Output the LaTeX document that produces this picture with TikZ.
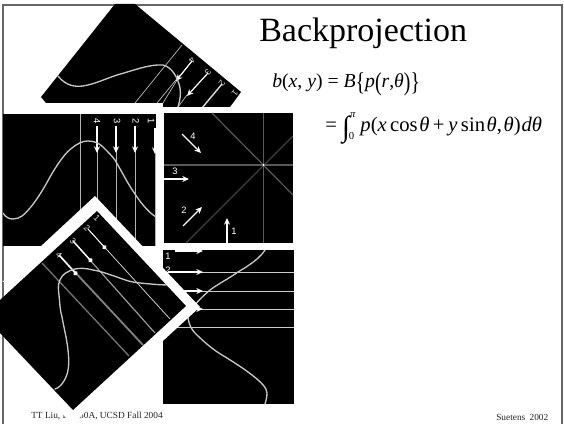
\documentclass[tikz,border=0pt]{standalone}
\usepackage{fontspec}
\setmainfont{Liberation Serif}
\newfontfamily\lsans{Liberation Sans}
\usetikzlibrary{arrows.meta}
\definecolor{framegray}{gray}{0.4}
\definecolor{curvegray}{gray}{0.78}
\newcommand{\mi}[1]{\textit{#1}}
\newcommand{\bigsym}[1]{\raisebox{-0.13em}{\scalebox{1.0}[1.3]{#1}}}
\tikzset{
  x=0.75pt,y=-0.75pt,
  framel/.style={draw=framegray,line width=0.85pt},
  panel/.style={fill=black,draw=none},
  ray/.style={draw=white!70!black,line width=0.55pt},
  curveline/.style={draw=curvegray,line width=1pt,line cap=round},
  arrowline/.style={draw=white,line width=1pt,-{Stealth[length=5pt,width=4.5pt]}},
  digit/.style={text=white,font=\lsans\fontsize{7}{8}\selectfont,inner sep=0pt},
  tinydigit/.style={text=white!85!black,font=\lsans\fontsize{6.5}{7}\selectfont,inner sep=0pt},
  footer/.style={font=\fontsize{7}{8}\selectfont,inner sep=0pt,text=black!85},
  formula/.style={font=\fontsize{14.8}{16}\selectfont,inner sep=0pt,anchor=base west},
  formulawide/.style={font=\fontsize{15.5}{17}\selectfont,inner sep=0pt,anchor=base west},
}
\begin{document}
\begin{tikzpicture}
\useasboundingbox (0,0) rectangle (564,424);
\fill[white] (0,0) rectangle (564,424);
% slide frame
\draw[framel] (3,424) -- (3,5) -- (562,5) -- (562,424);
% texts
\node[font=\fontsize{25.5}{30}\selectfont,inner sep=0pt,anchor=base west] (title) at (259,42) {Backprojection};
\node[formula] (eqa) at (272,88) {\mi{b}(\mi{x}, \mi{y}) = \mi{B}\bigsym{\{}\mi{p}\bigsym{(}\mi{r},\mi{θ}\bigsym{)}\bigsym{\}}};
\node[formulawide] (eqb) at (325,132) {= \raisebox{-0.2em}{\scalebox{1.4}{∫}}\raisebox{0.7em}{\fontsize{8}{8}\selectfont\mi{π}}\kern-0.32em\raisebox{-0.38em}{\fontsize{8}{8}\selectfont 0}\kern4.6pt\mi{p}(\mi{x}\kern2.5pt cos\kern1.2pt\mi{θ}\kern2.5pt+\kern3pt\mi{y}\kern2.5pt sin\kern1.2pt\mi{θ},\kern1.2pt\mi{θ})\kern0.7pt\mi{dθ}};
\node[footer,anchor=base west] (foota) at (31,418) {TT Liu, BE280A, UCSD Fall 2004};
\node[footer,anchor=base west] (footb) at (496,420.5) {Suetens\kern1.5pt\ 2002};
% top rotated panel
\begin{scope}
\clip (115,4) -- (135,4) -- (241,92) -- (230,107) -- (163,107) -- (163,103) -- (46,103) -- (41,97) -- cycle;
\fill[panel] (0,0) rectangle (250,110);
\draw[ray] (182,45) -- (135,103);
\draw[ray] (180,75) -- (157,103);
\draw[ray] (177,80) -- (163,103);
\draw[ray] (187,95) -- (178,107);
\draw[arrowline,line width=0.9pt] (192,61) -- (176,81);
\draw[arrowline,line width=0.9pt] (208,73) -- (187,96);
\draw[draw=white!85!black,line width=1.1pt] (222,84) -- (202,108);
\draw[curveline] (58,76) .. controls (66,86) and (75,87) .. (83,86)
  .. controls (95,84) and (105,79) .. (117,75)
  .. controls (135,70) and (150,64) .. (163,65)
  .. controls (172,67) and (178,78) .. (180,88)
  .. controls (181,95) and (180,100) .. (178,107);
\node[tinydigit,rotate=-128] (t4) at (192,60) {4};
\node[tinydigit,rotate=-128] (t3) at (208,72) {3};
\node[tinydigit,rotate=-128] (t2) at (222,83) {2};
\node[tinydigit,rotate=-128] (t1) at (235,93) {1};
\end{scope}
% left panel
\begin{scope}
\clip (3,114) rectangle (156,246);
\fill[panel] (3,114) rectangle (156,246);
\draw[ray] (80,114) -- (80,246);
\draw[ray] (97,150) -- (97,246);
\draw[ray] (116,150) -- (116,246);
\draw[ray] (135,150) -- (135,246);
\draw[ray] (155,150) -- (155,246);
\draw[arrowline] (97,126) -- (97,153);
\draw[arrowline] (116,126) -- (116,153);
\draw[arrowline] (135,126) -- (135,153);
\draw[arrowline] (155,128) -- (155,154);
\draw[curveline] (3,213) .. controls (6,218) and (10,219) .. (13,219)
  .. controls (20,219) and (24,215) .. (30,208)
  .. controls (36,201) and (43,190) .. (50,177)
  .. controls (58,163) and (66,152) .. (72,148)
  .. controls (78,143) and (83,141) .. (88,141)
  .. controls (94,141) and (99,143) .. (103,147)
  .. controls (108,152) and (112,156) .. (115,160)
  .. controls (122,172) and (128,184) .. (133,191)
  .. controls (140,202) and (148,212) .. (156,217);
\node[digit,rotate=-90] (l4) at (97,121) {4};
\node[digit,rotate=-90] (l3) at (117,121) {3};
\node[digit,rotate=-90] (l2) at (136,121) {2};
\node[digit,rotate=-90] (l1) at (151,121) {1};
\end{scope}
% star panel
\begin{scope}
\clip (164,113) rectangle (293,243);
\fill[panel] (164,113) rectangle (293,243);
\coordinate (star) at (263.5,165);
\draw[draw=white!35!black,line width=0.9pt] (263.5,113) -- (263.5,243);
\draw[draw=white!35!black,line width=0.9pt] (164,165) -- (293,165);
\draw[draw=white!35!black,line width=0.9pt] (212,113) -- (293,195);
\draw[draw=white!25!black,line width=0.9pt] (186,243) -- (293,136);
\fill[white] (star) circle (1.2);
\draw[arrowline] (182,134) -- (201,153);
\draw[arrowline] (164,179) -- (189,179);
\draw[arrowline] (183,226) -- (202,207);
\draw[arrowline] (227,243) -- (227,218);
\node[digit] (s4) at (193,136) {4};
\node[digit] (s3) at (175,171) {3};
\node[digit] (s2) at (184,210) {2};
\node[digit] (s1) at (234,231) {1};
\end{scope}
% lower right panel
\begin{scope}
\clip (163,250) rectangle (294,404);
\fill[panel] (163,250) rectangle (294,404);
\draw[ray,draw=white!80!black] (165,272) -- (294,272);
\draw[ray,draw=white!80!black] (165,291) -- (294,291);
\draw[ray,draw=white!80!black] (165,309) -- (294,309);
\draw[ray,draw=white!80!black] (165,327) -- (294,327);
\draw[arrowline] (175,251) -- (203,251);
\draw[arrowline] (168,272) -- (203,272);
\draw[arrowline] (175,291) -- (203,291);
\draw[arrowline] (175,309) -- (203,309);
\draw[curveline] (265,250) .. controls (260,258) and (250,265) .. (238,272)
  .. controls (228,279) and (218,284) .. (210,290)
  .. controls (203,296) and (198,301) .. (195,305)
  .. controls (190,310) and (187,314) .. (188,318)
  .. controls (189,325) and (192,330) .. (195,333)
  .. controls (203,341) and (212,349) .. (222,355)
  .. controls (232,361) and (243,368) .. (252,375)
  .. controls (261,382) and (267,388) .. (267,393)
  .. controls (267,397) and (266,401) .. (265,404);
\node[digit] (r1) at (168,256) {1};
\node[digit] (r2) at (168,270) {2};
\end{scope}
% rotated lower panel, with its white border
\fill[white] (95,196) -- (200,307) -- (72,424) -- (-2,344) -- (-2,286) -- cycle;
\draw[framel] (3,282) -- (3,300);
\draw[framel] (3,335) -- (3,424);
\begin{scope}
\clip (97,211) -- (186,306) -- (73,410) -- (0,333) -- (0,300) -- cycle;
\fill[panel] (0,205) rectangle (190,412);
\draw[draw=white!85!black,line width=0.55pt] (88,229) -- (170,319);
\draw[draw=white!60!black,line width=0.9pt] (73,241) -- (155,333);
\draw[draw=white!50!black,line width=1.4pt] (59,255) -- (143,345);
\draw[draw=white!45!black,line width=1pt] (42,263) -- (129,356);
\draw[arrowline,line width=0.6pt,-{Circle[length=3.5pt]}] (88,229) -- (106,249);
\draw[arrowline,line width=1pt,-{Circle[length=3.5pt]}] (73,241) -- (92,262);
\draw[arrowline,line width=1pt,-{Circle[length=3.5pt]}] (59,255) -- (77,275);
\draw[curveline] (170,285) .. controls (160,285) and (150,284) .. (140,283)
  .. controls (130,282) and (125,280) .. (117,277)
  .. controls (108,274) and (100,271) .. (93,270)
  .. controls (85,268) and (80,268) .. (75,269)
  .. controls (68,271) and (62,274) .. (60,280)
  .. controls (58,285) and (58,288) .. (59,295)
  .. controls (60,305) and (60,310) .. (62,317)
  .. controls (64,328) and (67,340) .. (68,350)
  .. controls (69,360) and (69,365) .. (68,370)
  .. controls (67,377) and (62,387) .. (55,389);
\node[tinydigit,rotate=-45] (d1) at (97,218) {1};
\node[tinydigit,rotate=-45] (d2) at (87,228) {2};
\node[tinydigit,rotate=-45] (d3) at (73,241) {3};
\node[tinydigit,rotate=-45] (d4) at (59,255) {4};
\end{scope}
\end{tikzpicture}
\end{document}
